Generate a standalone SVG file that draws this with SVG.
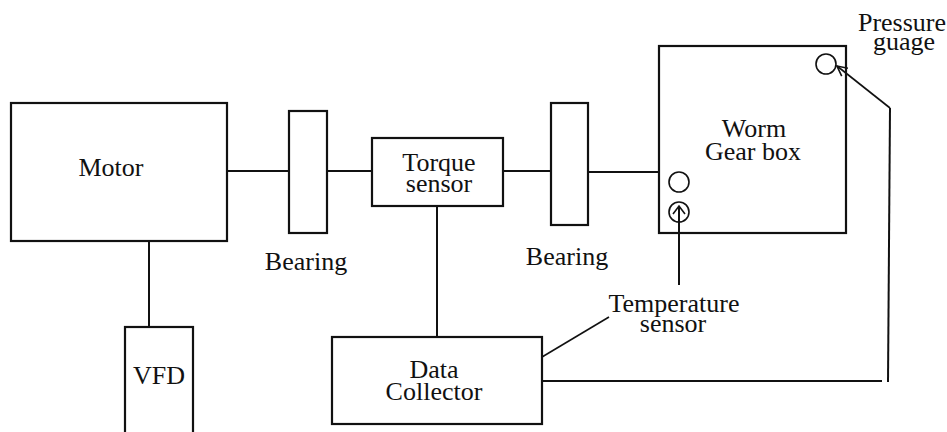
<svg xmlns="http://www.w3.org/2000/svg" width="947" height="432" viewBox="0 0 947 432">
<defs>
<style>
.box{fill:#fff;stroke:#111;stroke-width:2.2}
.ln{fill:none;stroke:#111;stroke-width:2}
.thin{fill:none;stroke:#111;stroke-width:1.6}
.t{font-size:26px;fill:#111;text-anchor:middle}
</style>
</defs>
<rect width="947" height="432" fill="#fff"/>
<g font-family="'Liberation Serif', 'Times New Roman', Tinos, 'DejaVu Serif', serif">
<g id="motor">
<rect class="box" x="11" y="103" width="216" height="138"/>
<text class="t" x="111" y="176" font-size="27">Motor</text>
</g>
<g id="vfd">
<rect class="box" x="125" y="327" width="68" height="115"/>
<text class="t" x="159" y="384">VFD</text>
</g>
<g id="bearing1">
<rect class="box" x="289" y="111" width="38" height="122"/>
<text class="t" x="306" y="270">Bearing</text>
</g>
<g id="torque-sensor">
<rect class="box" x="372" y="138" width="131" height="68"/>
<text class="t" x="439" y="171">Torque</text>
<text class="t" x="439" y="192">sensor</text>
</g>
<g id="bearing2">
<rect class="box" x="551" y="103" width="37" height="122"/>
<text class="t" x="567" y="265">Bearing</text>
</g>
<g id="gearbox">
<rect class="box" x="659" y="46" width="187" height="187"/>
<text class="t" x="754" y="137">Worm</text>
<text class="t" x="753" y="160">Gear box</text>
<circle class="thin" cx="679" cy="182" r="10"/>
<circle class="thin" cx="679" cy="212" r="10"/>
<circle class="thin" cx="826" cy="64" r="10"/>
</g>
<g id="data-collector">
<rect class="box" x="332" y="337" width="210" height="87"/>
<text class="t" x="434" y="378">Data</text>
<text class="t" x="434" y="400">Collector</text>
</g>
<g id="labels">
<text class="t" x="902" y="31">Pressure</text>
<text class="t" x="904" y="50">guage</text>
<text class="t" x="674" y="312">Temperature</text>
<text class="t" x="673" y="332">sensor</text>
</g>
</g>
<g id="connectors">
<line class="ln" x1="227" y1="171" x2="289" y2="171"/>
<line class="ln" x1="327" y1="171" x2="372" y2="171"/>
<line class="ln" x1="503" y1="171" x2="551" y2="171"/>
<line class="ln" x1="588" y1="172" x2="659" y2="172"/>
<line class="ln" x1="149" y1="241" x2="149" y2="327"/>
<line class="ln" x1="437" y1="206" x2="437" y2="337"/>
<line class="thin" x1="542" y1="357" x2="609" y2="317"/>
<line class="ln" x1="542" y1="381" x2="882" y2="381"/>
<line class="ln" x1="888" y1="382" x2="890" y2="108"/>
<line class="thin" x1="890" y1="108" x2="837" y2="66"/>
<path class="thin" d="M847.9,68.3 L837,66 L841.7,76.1"/>
<line class="ln" x1="679" y1="285" x2="679" y2="207"/>
<path class="thin" d="M673,214 L679,206 L685,214"/>
</g>
</svg>
